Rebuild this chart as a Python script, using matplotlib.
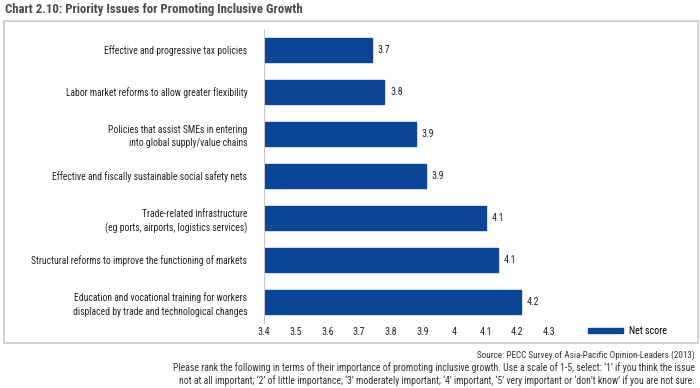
import matplotlib.pyplot as plt
from matplotlib.patches import Rectangle

# data (top to bottom)
categories = [
    "Effective and progressive tax policies",
    "Labor market reforms to allow greater flexibility",
    "Policies that assist SMEs in entering\ninto global supply/value chains",
    "Effective and fiscally sustainable social safety nets",
    "Trade-related infrastructure\n(eg ports, airports, logistics services)",
    "Structural reforms to improve the functioning of markets",
    "Education and vocational training for workers\ndisplaced by trade and technological changes",
]
net_score = [3.74, 3.78, 3.88, 3.91, 4.10, 4.14, 4.21]
x_ticks = [3.4, 3.5, 3.6, 3.7, 3.8, 3.9, 4.0, 4.1, 4.2, 4.3]
x_tick_labels = ["3.4", "3.5", "3.6", "3.7", "3.8", "3.9", "4", "4.1", "4.2", "4.3"]

BAR = "#0b4597"
TXT = "#222222"

plt.rcParams["font.family"] = ["Roboto Condensed", "DejaVu Sans"]

fig = plt.figure(figsize=(7, 3.88), dpi=100)
ax = fig.add_axes([264 / 700, 65 / 388, (549 - 264) / 700, 294 / 388])

y = list(range(len(categories)))
bars = ax.barh(y, net_score, height=0.57, left=0, color=BAR, edgecolor=BAR,
               label="Net score", zorder=2)
ax.set_xlim(3.4, 4.3)
ax.set_ylim(len(categories) - 0.5, -0.5)

for bar, v in zip(bars, net_score):
    ax.text(v + 0.018, bar.get_y() + bar.get_height() / 2, f"{v:.1f}",
            va="center", ha="left", fontsize=7.2, color=TXT)

ax.set_yticks(y)
ax.set_yticklabels(categories, fontsize=6.9, color=TXT, linespacing=1.4)
ax.set_xticks(x_ticks)
ax.set_xticklabels(x_tick_labels, fontsize=7.2, color=TXT)
ax.tick_params(axis="y", length=0, pad=12)
ax.tick_params(axis="x", length=0, pad=3)
for s in ["top", "right", "bottom"]:
    ax.spines[s].set_visible(False)
ax.spines["left"].set_color("#c8c8c8")
ax.spines["left"].set_linewidth(0.8)

ax.legend(loc="center left", bbox_to_anchor=(579 / 700, 1 - 331 / 388),
          bbox_transform=fig.transFigure, frameon=False, fontsize=7.2,
          handlelength=3.5, handleheight=0.5, handletextpad=0.6)

# outer grey frame
fig.add_artist(Rectangle((4 / 700, 1 - 343 / 388), 694 / 700, 322 / 388,
                         transform=fig.transFigure, fill=False,
                         edgecolor="#d4d4d4", linewidth=1.5))

fig.text(5 / 700, 1 - 10 / 388, "Chart 2.10: Priority Issues for Promoting Inclusive Growth",
         fontsize=9.2, fontweight="bold", color="#4a4a4a", va="center", ha="left")

notes = [
    "Source: PECC Survey of Asia-Pacific Opinion-Leaders (2013)",
    "Please rank the following in terms of their importance of promoting inclusive growth. Use a scale of 1-5, select: \u20181\u2019 if you think the issue",
    "not at all important; \u20182\u2019 of little importance; \u20183\u2019 moderately important; \u20184\u2019 important, \u20185\u2019 very important or \u2018don\u2019t know\u2019 if you are not sure.",
]
note_sizes = [6.6, 7.0, 7.05]
for i, (line, fs) in enumerate(zip(notes, note_sizes)):
    fig.text(695 / 700, 1 - (355 + 13 * i) / 388, line, fontsize=fs, color="#333333",
             ha="right", va="center")

fig.savefig("out.png", dpi=100)
